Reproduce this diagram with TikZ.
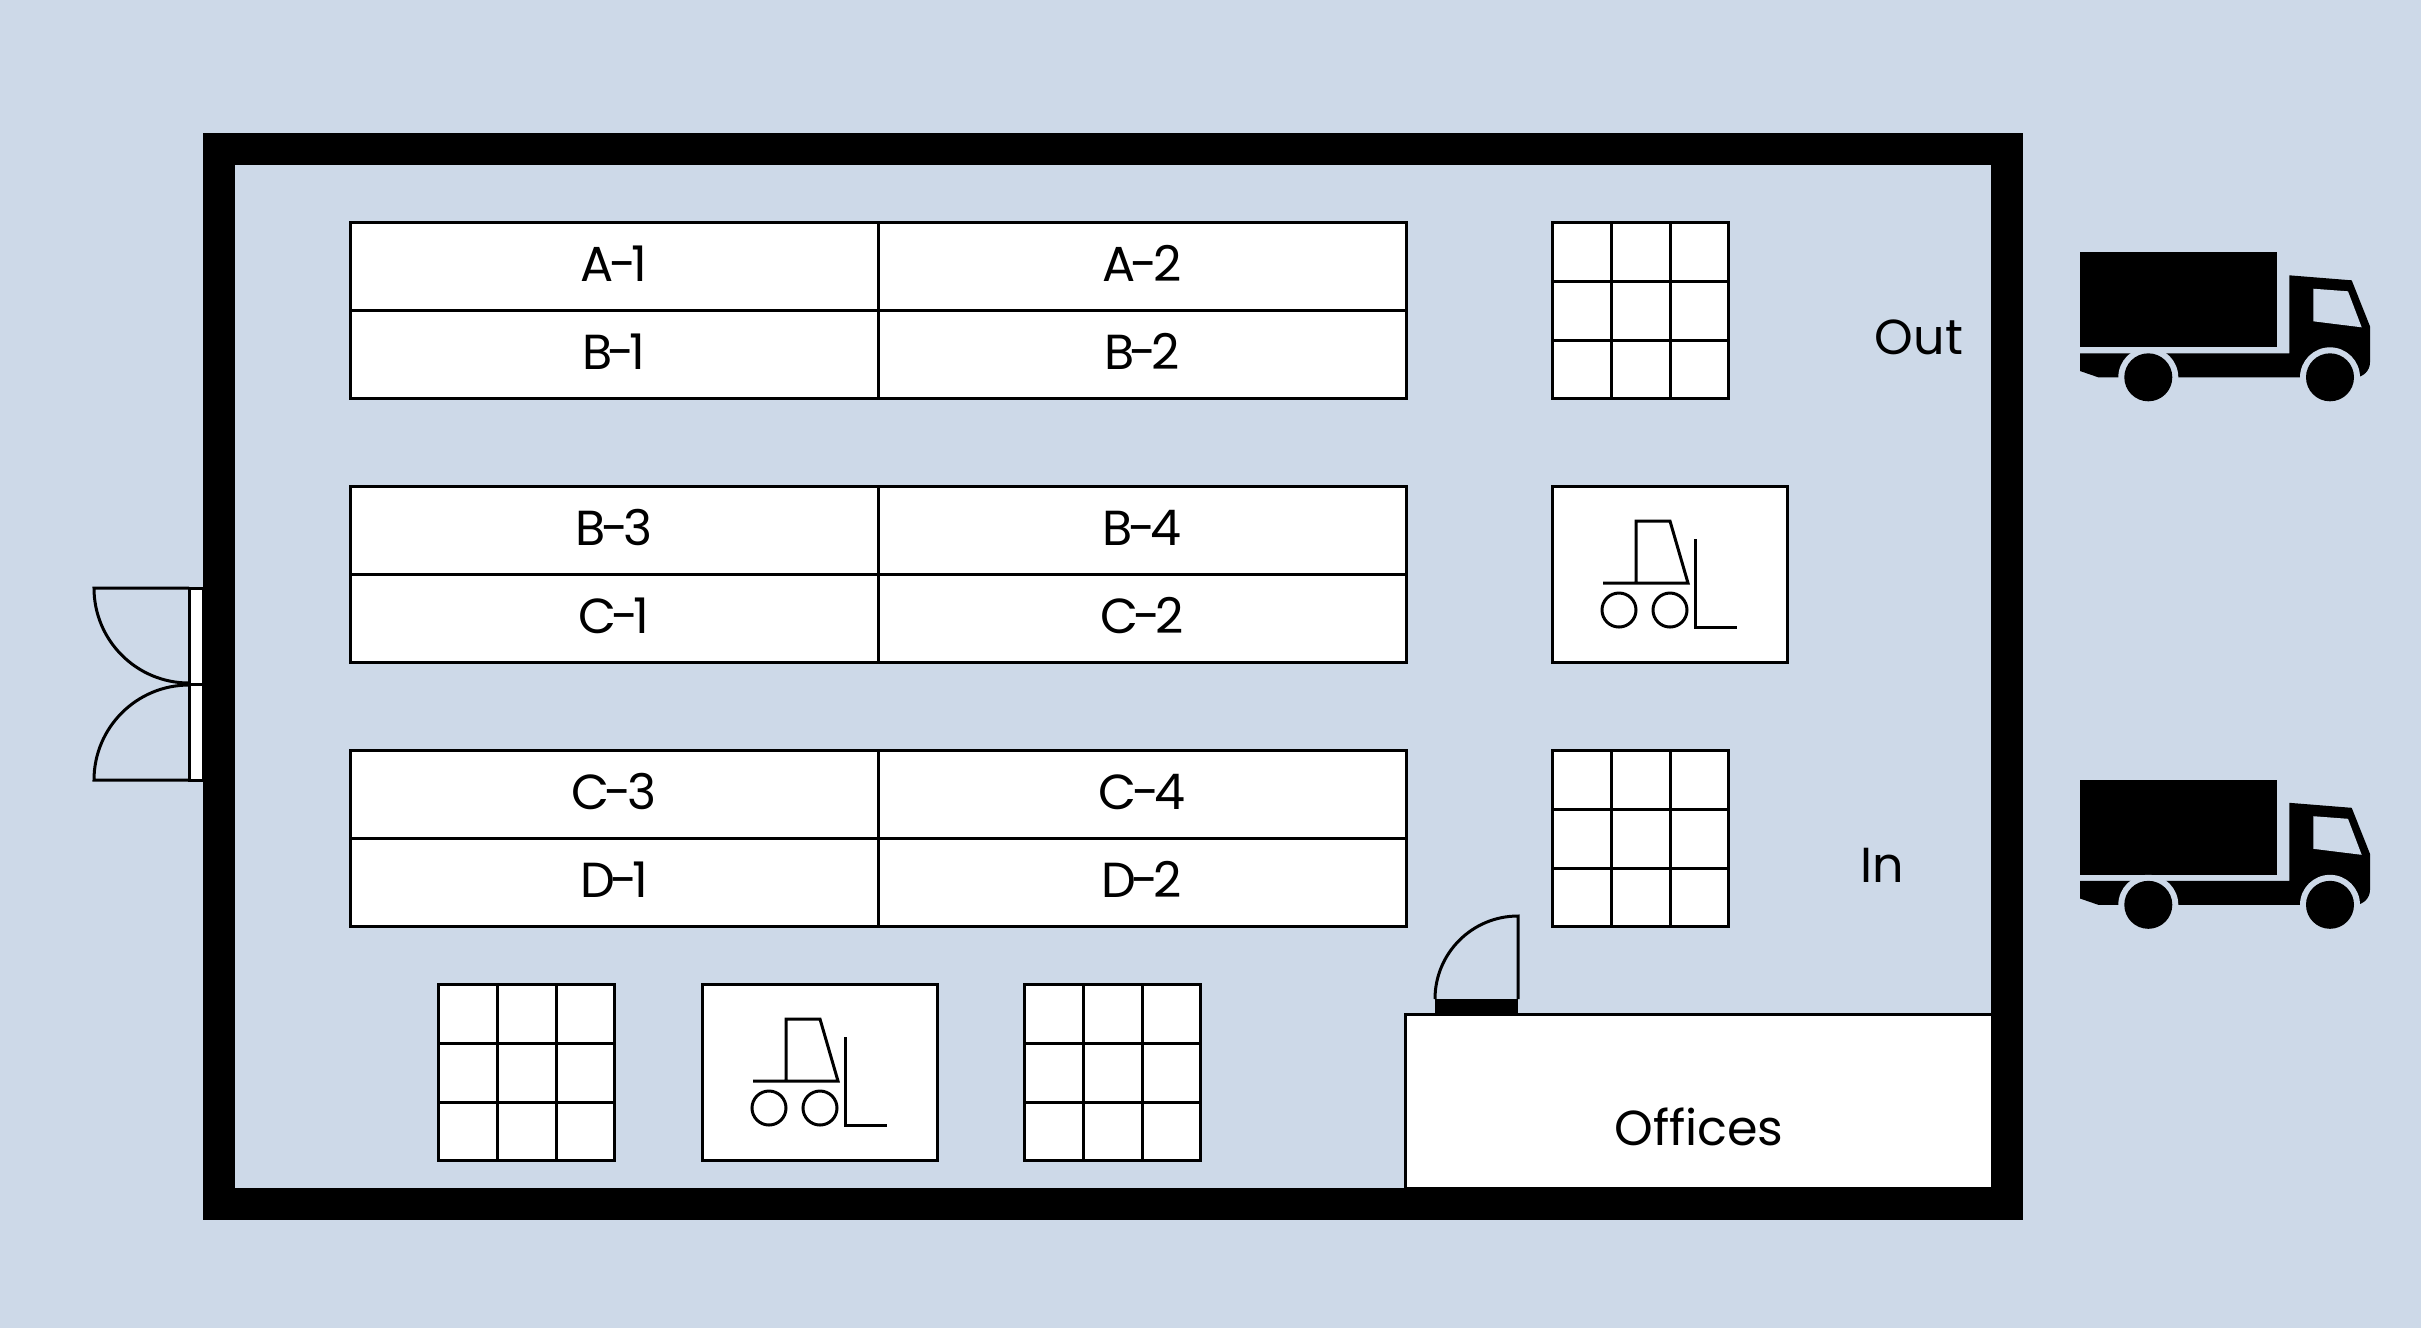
\documentclass[tikz,border=0pt]{standalone}
\usepackage{fontspec}
\setmainfont{Poppins}
\usepackage{xcolor}
\definecolor{floorblue}{HTML}{CDD9E8}
\tikzset{
    plan/.style={line width=.3mm, line join=miter},
    rackcell/.style={draw, plan, fill=white, inner sep=0pt, outer sep=0pt, minimum width=52.8mm, minimum height=8.8mm, text height=3.5mm, text depth=.5mm, font=\fontsize{14pt}{16pt}\selectfont\addfontfeature{LetterSpace=-10}},
    tag/.style={inner sep=0pt, font=\fontsize{14pt}{16pt}\selectfont},
    gridrack/.pic={
        \draw[plan, fill=white] (0,0) rectangle (176,176);
        \foreach \i in {59,118} {
            \draw[plan] (\i,0) -- (\i,176);
            \draw[plan] (0,\i) -- (176,\i);
        }
    },
    forklift/.pic={
        \draw[plan, fill=white] (0,0) rectangle (235,176);
        \draw[plan] (51,97) -- (136,97) -- (118,35) -- (84,35) -- (84,97);
        \draw[plan] (67,124) circle[radius=1.7mm];
        \draw[plan] (118,124) circle[radius=1.7mm];
        \draw[plan] (143,53) -- (143,141) -- (185,141);
    },
    truck/.pic={
        \fill[black] (0,0) rectangle (197,95);
        \fill[black] (0,101.3) -- (209.3,101.3) -- (209.3,23.3) -- (271.7,28.3) -- (290,74.3) [rounded corners=1.5mm] -- (290,125.3) [sharp corners] -- (18.3,125.3) -- (0,119) -- cycle;
        \fill[floorblue] (233.3,36.7) -- (268,39.3) -- (281.7,75.3) -- (233.3,69.3) -- cycle;
        \foreach \x in {68.3,250} {
            \fill[floorblue] (\x,125.3) circle[radius=3mm];
            \fill[black] (\x,125.3) circle[radius=2.4mm];
        }
    }
}
\begin{document}
\begin{tikzpicture}[x=.1mm, y=-.1mm]
    \fill[floorblue] (0,0) rectangle (2421,1328);
    % storage racks
    \foreach \name/\txt/\x/\y in {a1/A-1/614/266, a2/A-2/1142/266, b1/B-1/614/354, b2/B-2/1142/354,
            b3/B-3/614/530, b4/B-4/1142/530, c1/C-1/614/618, c2/C-2/1142/618,
            c3/C-3/614/794, c4/C-4/1142/794, d1/D-1/614/882, d2/D-2/1142/882} {
        \node[rackcell] (\name) at (\x,\y) {\txt};
    }
    \pic at (1552,222) {gridrack};
    \pic at (1552,750) {gridrack};
    \pic at (438,984) {gridrack};
    \pic at (1024,984) {gridrack};
    \pic at (1552,486) {forklift};
    \pic at (702,984) {forklift};
    % offices and their door
    \draw[plan, fill=white] (1405,1188) -- (1405,1014) -- (1992,1014) -- (1992,1188) -- cycle;
    \node[tag] (offices) at (1699,1127) {Offices};
    \fill[black] (1435,999) rectangle (1518,1014);
    \draw[plan] (1435,999) arc[start angle=180, end angle=90, radius=8.3mm] -- (1518,999);
    % back doors
    \draw[plan, fill=white] (189,588) rectangle (203,684);
    \draw[plan, fill=white] (189,684) rectangle (203,780);
    \draw[plan] (189,588) -- (94,588) arc[start angle=180, end angle=270, radius=9.5mm];
    \draw[plan] (189,780) -- (94,780) arc[start angle=180, end angle=90, radius=9.5mm];
    % walls
    \draw[line width=3.2mm] (219,149) rectangle (2007,1204);
    \node[tag] (out) at (1919,337) {Out};
    \node[tag] (in) at (1882,865) {In};
    % trucks
    \pic at (2080,252) {truck};
    \pic at (2080,779.5) {truck};
\end{tikzpicture}
\end{document}
